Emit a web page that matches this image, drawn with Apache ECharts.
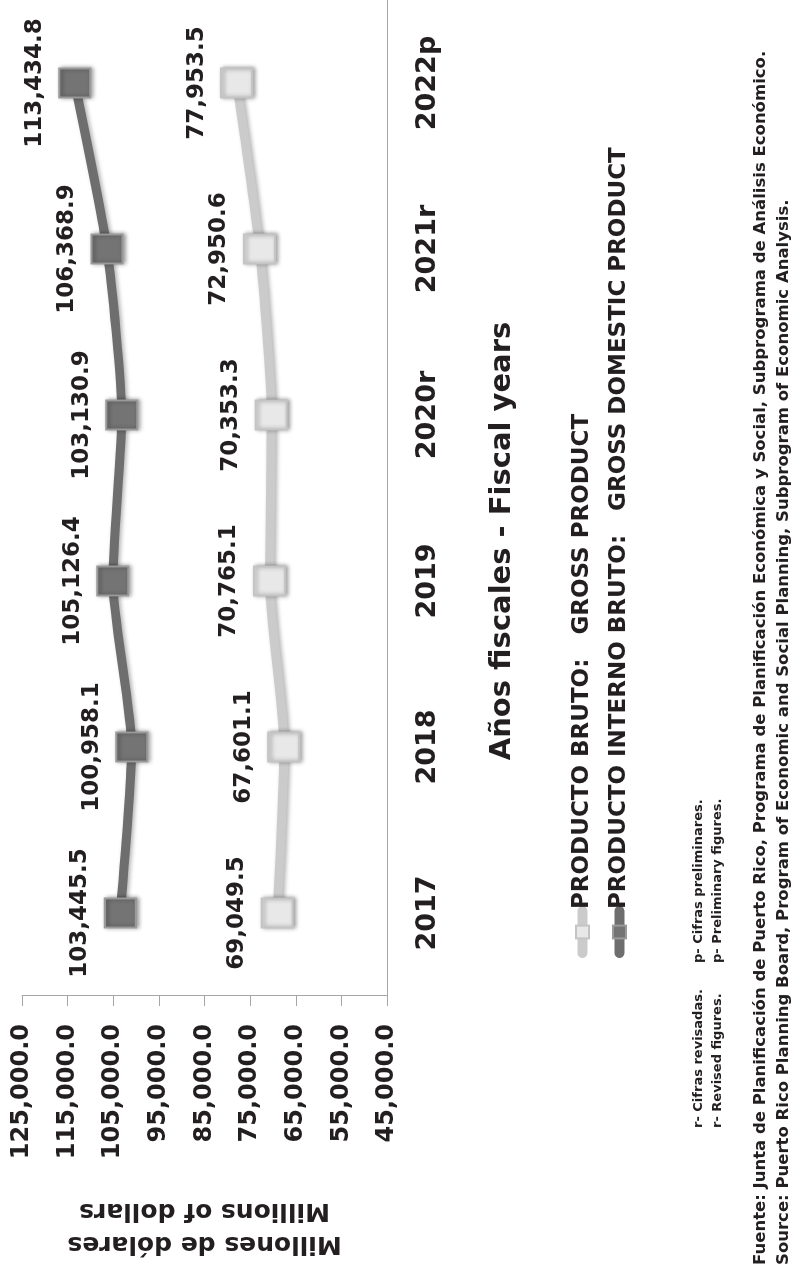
<!DOCTYPE html>
<html>
<head>
<meta charset="utf-8">
<script src="https://cdn.jsdelivr.net/npm/echarts@6/dist/echarts.min.js"></script>
<style>
html, body { margin: 0; padding: 0; background: #fff; overflow: hidden; }
/* chart is drawn upright, then turned a quarter turn left like the source page */
#chart {
	position: absolute;
	left: 0;
	top: 0;
	width: 1268px;
	height: 801px;
	transform-origin: 0 0;
	transform: translateY(1268px) rotate(-90deg);
}
</style>
</head>
<body>
<div id="chart"></div>
<script>
// años fiscales
const years = ["2017", "2018", "2019", "2020r", "2021r", "2022p"];
// producto interno bruto (millones de dólares)
const pib = [103445.5, 100958.1, 105126.4, 103130.9, 106368.9, 113434.8];
// producto bruto (millones de dólares)
const pb = [69049.5, 67601.1, 70765.1, 70353.3, 72950.6, 77953.5];
// eje de valores
const axisMin = 45000;
const axisMax = 125000;
const axisStep = 10000;

const FONT = "DejaVu Sans";
const INK = "#231f20";

const fmt = (v) => Number(v).toLocaleString("en-US", { minimumFractionDigits: 1, maximumFractionDigits: 1 });

const chart = echarts.init(document.getElementById("chart"), null, { renderer: "canvas" });

const labelStyle = {
	show: true,
	position: "top",
	distance: 12,
	fontFamily: FONT,
	fontSize: 23,
	fontWeight: "bold",
	color: INK,
	formatter: (p) => fmt(p.value)
};

const noteStyle = (text, size) => ({
	text: text,
	verticalAlign: "middle",
	fontFamily: FONT,
	fontSize: size,
	fontWeight: "bold",
	fill: INK
});

const option = {
	backgroundColor: "#fff",
	animation: false,
	grid: {
		left: 267,
		right: -4,
		top: 22,
		bottom: 414
	},
	legend: {
		orient: "vertical",
		left: 305,
		top: 566,
		itemWidth: 42,
		itemHeight: 16,
		itemGap: 14,
		data: ["PRODUCTO BRUTO:   GROSS PRODUCT", "PRODUCTO INTERNO BRUTO:   GROSS DOMESTIC PRODUCT"],
		lineStyle: { width: 10, cap: "round" },
		textStyle: {
			fontFamily: FONT,
			fontSize: 23,
			fontWeight: "bold",
			color: INK,
			padding: [0, 0, 0, -3]
		}
	},
	xAxis: {
		type: "category",
		data: years,
		boundaryGap: true,
		axisLine: { lineStyle: { color: "#a6a6a6", width: 1 } },
		axisTick: { length: 9, lineStyle: { color: "#a6a6a6" } },
		axisLabel: {
			margin: 27,
			fontFamily: FONT,
			fontSize: 27,
			fontWeight: "bold",
			color: INK
		},
		splitLine: { show: false }
	},
	yAxis: {
		type: "value",
		min: axisMin,
		max: axisMax,
		interval: axisStep,
		name: "Millones de dólares\nMillions of dollars",
		nameLocation: "middle",
		nameRotate: 90,
		nameGap: 198,
		nameTextStyle: {
			fontFamily: FONT,
			fontSize: 25,
			fontWeight: "bold",
			lineHeight: 33,
			color: INK
		},
		axisLine: { show: true, lineStyle: { color: "#a6a6a6", width: 1 } },
		axisTick: { show: true, length: 10, lineStyle: { color: "#a6a6a6" } },
		axisLabel: {
			margin: 28,
			fontFamily: FONT,
			fontSize: 24,
			fontWeight: "bold",
			color: INK,
			formatter: (v) => fmt(v)
		},
		splitLine: { show: false }
	},
	series: [
		{
			name: "PRODUCTO BRUTO:   GROSS PRODUCT",
			type: "line",
			data: pb,
			smooth: 0.2,
			symbol: "rect",
			symbolSize: [29, 31],
			lineStyle: {
				color: "#cbcbcb",
				width: 9,
				shadowColor: "rgba(0,0,0,0.3)",
				shadowBlur: 4,
				shadowOffsetY: 2
			},
			itemStyle: {
				color: "#e8e8e8",
				borderColor: "#c4c4c4",
				borderWidth: 2,
				shadowColor: "rgba(0,0,0,0.35)",
				shadowBlur: 4,
				shadowOffsetY: 2
			},
			label: labelStyle
		},
		{
			name: "PRODUCTO INTERNO BRUTO:   GROSS DOMESTIC PRODUCT",
			type: "line",
			data: pib,
			smooth: 0.2,
			symbol: "rect",
			symbolSize: [29, 31],
			lineStyle: {
				color: "#6e6e6e",
				width: 9,
				shadowColor: "rgba(0,0,0,0.3)",
				shadowBlur: 4,
				shadowOffsetY: 2
			},
			itemStyle: {
				color: "#747474",
				borderColor: "#9a9a9a",
				borderWidth: 2,
				shadowColor: "rgba(0,0,0,0.35)",
				shadowBlur: 4,
				shadowOffsetY: 2
			},
			label: labelStyle
		}
	],
	graphic: [
		{
			type: "text",
			x: 727,
			y: 502,
			style: {
				text: "Años fiscales - Fiscal years",
				align: "center",
				verticalAlign: "middle",
				fontFamily: FONT,
				fontSize: 29,
				fontWeight: "bold",
				fill: INK
			}
		},
		{ type: "text", x: 140, y: 699, style: noteStyle("r- Cifras revisadas.", 13) },
		{ type: "text", x: 305, y: 699, style: noteStyle("p- Cifras preliminares.", 13) },
		{ type: "text", x: 140, y: 718, style: noteStyle("r- Revised figures.", 13) },
		{ type: "text", x: 305, y: 718, style: noteStyle("p- Preliminary figures.", 13) },
		{
			type: "text", x: 3, y: 761,
			style: noteStyle("Fuente: Junta de Planificación de Puerto Rico, Programa de Planificación Económica y Social, Subprograma de Análisis Económico.", 16.5)
		},
		{
			type: "text", x: 3, y: 784,
			style: noteStyle("Source: Puerto Rico Planning Board, Program of Economic and Social Planning, Subprogram of Economic Analysis.", 16.5)
		}
	]
};

chart.setOption(option);
</script>
</body>
</html>
